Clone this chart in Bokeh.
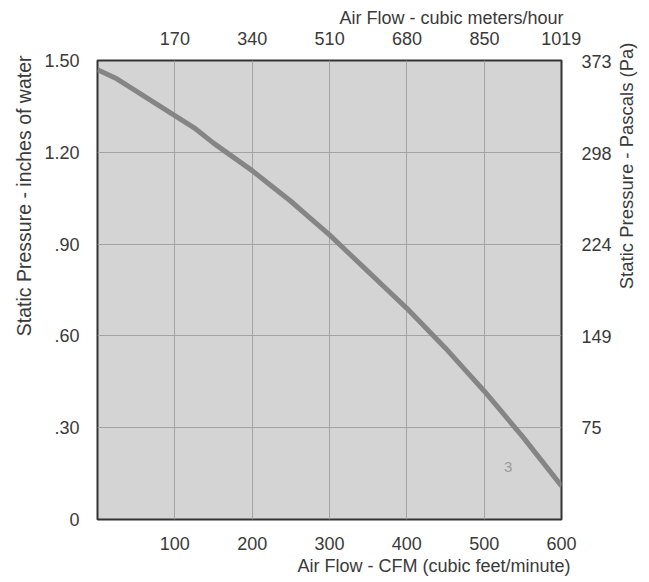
import math
from bokeh.plotting import figure
from bokeh.models import Range1d, LinearAxis, FixedTicker, ColumnDataSource, Title, Label
from bokeh.core.properties import value
from bokeh.embed import file_html
from bokeh.resources import INLINE

# ---- data ----
cfm = [0, 25, 50, 75, 100, 125, 150, 175, 200, 225, 250, 275, 300,
       325, 350, 375, 400, 425, 450, 475, 500, 525, 550, 575, 600]
pressure_inwg = [1.47, 1.44, 1.40, 1.36, 1.32, 1.28, 1.23, 1.185, 1.14, 1.09, 1.04, 0.985, 0.93,
                 0.87, 0.81, 0.75, 0.69, 0.625, 0.56, 0.49, 0.42, 0.345, 0.27, 0.19, 0.11]

cfm_ticks = [100, 200, 300, 400, 500, 600]
m3h_ticks = [170, 340, 510, 680, 850, 1019]
inwg_ticks = [0, 0.30, 0.60, 0.90, 1.20, 1.50]
inwg_tick_labels = ["0", ".30", ".60", ".90", "1.20", "1.50"]
pa_ticks = [75, 149, 224, 298, 373]

curve_names = ["3"]
curve_name_x = [531]
curve_name_y = [0.17]

title_bottom = "Air Flow - CFM (cubic feet/minute)"
title_top = "Air Flow - cubic meters/hour"
title_left = "Static Pressure - inches of water"
title_right = "Static Pressure - Pascals (Pa)"

CFM_MAX = 600
INWG_MAX = 1.5
M3H_MAX = 1019.4
PA_MAX = 373.6

FONT = "Liberation Sans"
TEXT_COLOR = "#3a3a3a"
FRAME_H = 462

W, H = 646, 580
p = figure(width=W, height=H, output_backend="svg", toolbar_location=None,
           x_range=Range1d(0, CFM_MAX), y_range=Range1d(0, INWG_MAX),
           min_border_left=97, min_border_right=W - 561, min_border_top=60, min_border_bottom=H - 522)
p.extra_x_ranges = {"m3h": Range1d(0, M3H_MAX)}
p.extra_y_ranges = {"pa": Range1d(0, PA_MAX)}

p.background_fill_color = "#d4d4d4"
p.border_fill_color = "white"
p.outline_line_color = "#333333"
p.outline_line_width = 2

bottom_ax = p.below[0]
left_ax = p.left[0]
bottom_ax.ticker = FixedTicker(ticks=cfm_ticks)
left_ax.ticker = FixedTicker(ticks=inwg_ticks)
left_ax.major_label_overrides = dict(zip(inwg_ticks, inwg_tick_labels))

top_ax = LinearAxis(x_range_name="m3h", ticker=FixedTicker(ticks=m3h_ticks))
p.add_layout(top_ax, "above")
right_ax = LinearAxis(y_range_name="pa", ticker=FixedTicker(ticks=pa_ticks))
p.add_layout(right_ax, "right")

for ax in [bottom_ax, left_ax, top_ax, right_ax]:
    ax.axis_line_color = None
    ax.major_tick_line_color = None
    ax.minor_tick_line_color = None
    ax.major_label_text_font = FONT
    ax.major_label_text_font_size = "18px"
    ax.major_label_text_color = TEXT_COLOR

bottom_ax.major_label_standoff = 11
top_ax.major_label_standoff = 10
left_ax.major_label_standoff = 12
right_ax.major_label_standoff = 14


def side_title(text, side, offset, standoff, valign, size="18px"):
    t = Title(text=text, align="right", offset=offset, standoff=standoff, vertical_align=valign,
              text_font=FONT, text_font_size=size, text_font_style="normal", text_color=TEXT_COLOR)
    p.add_layout(t, side)


side_title(title_top, "above", -2, 2, "bottom")
side_title(title_bottom, "below", -9, 6, "top")
side_title(title_left, "left", -5, 14, "bottom", "19.5px")

right_label = Label(x=12, y=FRAME_H + 15, x_units="screen", y_units="screen", text=title_right,
                    angle=math.pi / 2, text_align="right", text_baseline="middle",
                    text_font=FONT, text_font_size="18.5px", text_color=TEXT_COLOR)
p.add_layout(right_label, "right")

p.xgrid.ticker = FixedTicker(ticks=cfm_ticks[:-1])
p.ygrid.ticker = FixedTicker(ticks=inwg_ticks[1:-1])
p.grid.grid_line_color = "#a3a3a3"
p.grid.grid_line_width = 1

src = ColumnDataSource(dict(x=cfm, y=pressure_inwg))
p.line("x", "y", source=src, line_color="#858585", line_width=5)

lab = ColumnDataSource(dict(x=curve_name_x, y=curve_name_y, t=curve_names))
p.text("x", "y", text="t", source=lab, text_font=value(FONT), text_font_size="15px",
       text_color="#9a9a9a", text_align="center", text_baseline="middle")

open("out.html", "w").write(file_html(p, INLINE))
